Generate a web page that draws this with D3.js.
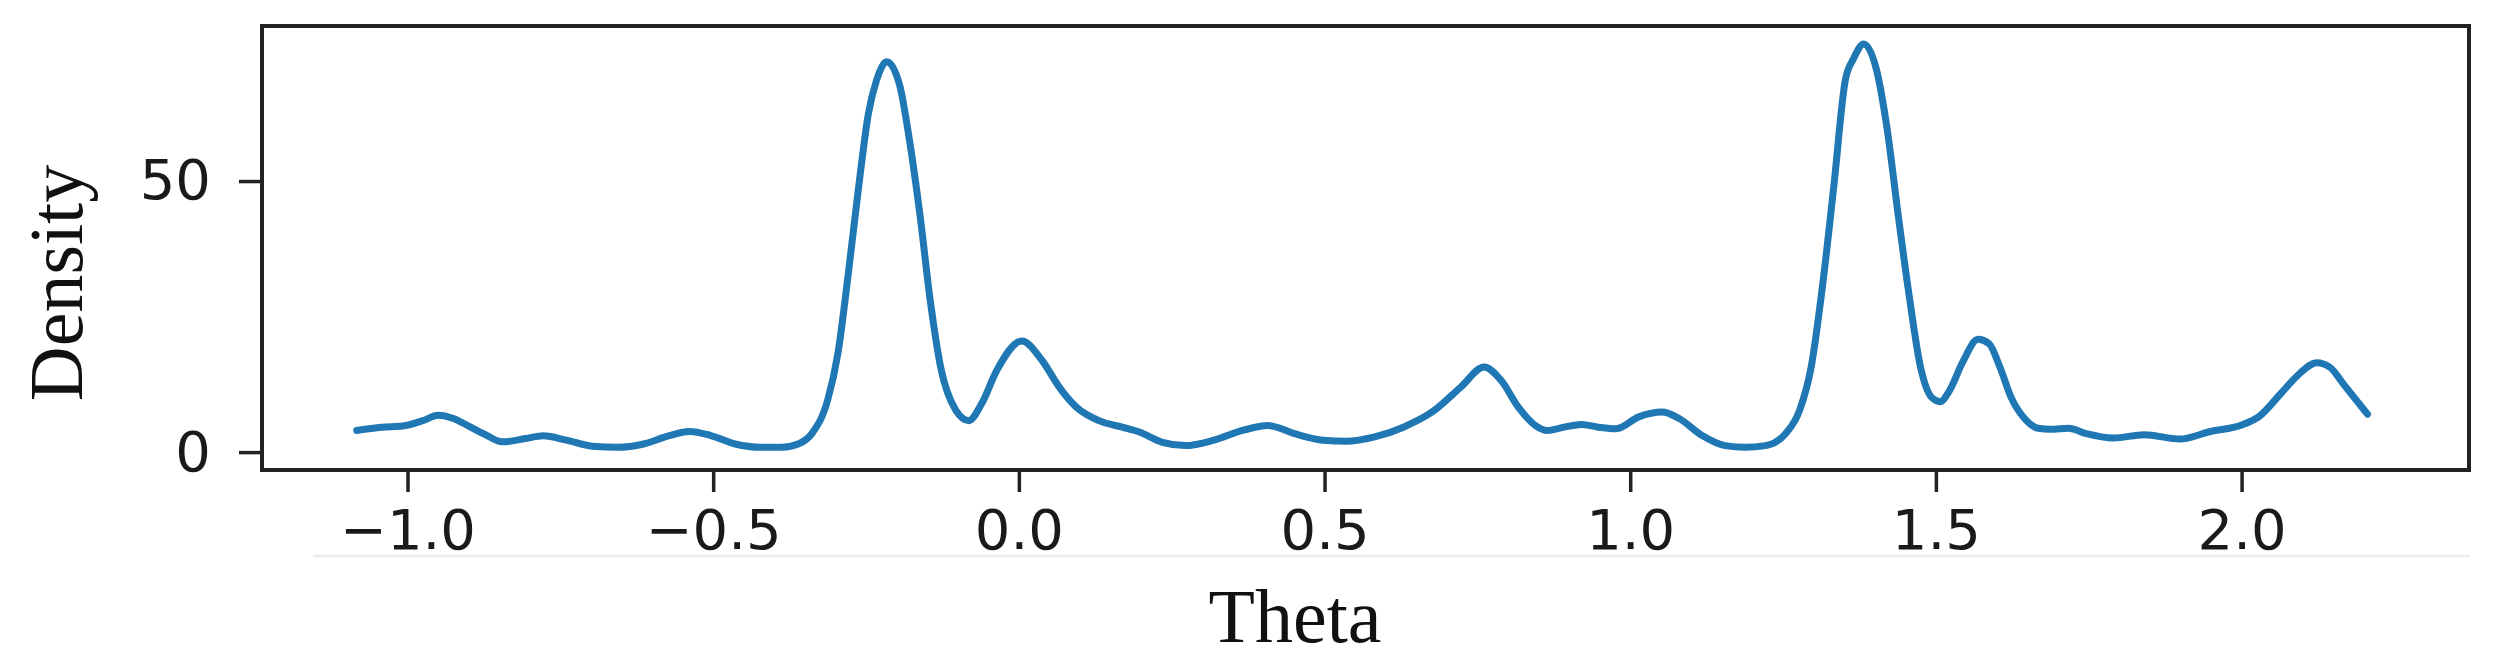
<!DOCTYPE html>
<html>
<head>
<meta charset="utf-8">
<script src="https://cdn.jsdelivr.net/npm/d3@7"></script>
<style>
  html, body { margin: 0; padding: 0; background: #fff; }
  svg { display: block; }
</style>
</head>
<body>
<svg id="chart" width="2502" height="669"></svg>
<script>
// ---- Data ----
const theta = [
  -1.083, -1.042, -1.008, -0.975, -0.950, -0.925, -0.900, -0.874, -0.845, -0.807,
  -0.778, -0.740, -0.698, -0.656, -0.614, -0.573, -0.539, -0.505, -0.464, -0.422,
  -0.388, -0.359, -0.338, -0.313, -0.296, -0.279, -0.262, -0.246, -0.233, -0.216,
  -0.195, -0.179, -0.162, -0.145, -0.128, -0.103, -0.082, -0.061, -0.036, 0.005,
  0.038, 0.066, 0.094, 0.131, 0.169, 0.197, 0.235, 0.272, 0.319, 0.366,
  0.408, 0.451, 0.498, 0.535, 0.582, 0.629, 0.676, 0.723, 0.761, 0.789,
  0.817, 0.845, 0.864, 0.892, 0.920, 0.948, 0.977, 1.014, 1.052, 1.080,
  1.117, 1.155, 1.188, 1.221, 1.254, 1.277, 1.296, 1.315, 1.333, 1.352,
  1.365, 1.382, 1.402, 1.420, 1.438, 1.457, 1.475, 1.493, 1.507, 1.522,
  1.543, 1.569, 1.587, 1.605, 1.623, 1.645, 1.667, 1.688, 1.717, 1.746,
  1.790, 1.841, 1.899, 1.949, 2.000, 2.029, 2.065, 2.094, 2.123, 2.145,
  2.167, 2.206
];
const density = [
  4.0, 4.6, 4.8, 5.8, 6.8, 6.2, 4.8, 3.3, 1.9, 2.5,
  3.0, 2.2, 1.1, 0.9, 1.5, 3.0, 3.8, 3.1, 1.5, 0.9,
  0.9, 1.6, 3.5, 9.5, 18.2, 32.9, 49.0, 62.5, 68.5, 72.0,
  67.7, 57.6, 44.0, 28.0, 15.7, 7.7, 5.8, 8.9, 15.1, 20.5,
  16.9, 12.0, 8.3, 5.8, 4.6, 3.7, 1.8, 1.2, 2.2, 4.0,
  4.9, 3.4, 2.2, 2.0, 2.8, 4.6, 7.4, 12.0, 15.7, 13.2,
  8.3, 4.9, 4.0, 4.6, 5.1, 4.6, 4.3, 6.5, 7.4, 6.2,
  3.1, 1.2, 0.9, 1.2, 3.4, 7.7, 15.7, 31.1, 49.0, 68.7,
  72.5, 75.3, 70.9, 59.8, 44.0, 28.3, 15.6, 10.1, 9.3, 11.3,
  16.4, 20.8, 20.0, 15.6, 10.1, 6.2, 4.4, 4.2, 4.4, 3.4,
  2.6, 3.2, 2.4, 3.8, 5.0, 6.6, 10.9, 14.4, 16.5, 15.6,
  12.5, 7.0
];
const xTicks = [-1.0, -0.5, 0.0, 0.5, 1.0, 1.5, 2.0];
const yTicks = [0, 50];
const xLabel = "Theta";
const yLabel = "Density";

(function () {
  // ---- Layout ----
  const svg = d3.select("#chart");
  const pL = 262, pR = 2469, pT = 26, pB = 470;

  const x = d3.scaleLinear().domain([-1.238, 2.372]).range([pL, pR]);
  const y = d3.scaleLinear().domain([-3.3, 78.6]).range([pB, pT]);

  const tickFont = "'DejaVu Sans', sans-serif";
  const labelFont = "'Liberation Serif', 'Times New Roman', serif";

  // faint grey line under tick labels (artifact in reference)
  svg.append("line")
    .attr("x1", 313).attr("x2", 2470)
    .attr("y1", 556).attr("y2", 556)
    .attr("stroke", "#efefef").attr("stroke-width", 3);

  // x axis
  const fmt = d => d3.format(".1f")(d).replace("-", "\u2212");
  const gx = svg.append("g")
    .attr("transform", `translate(0,${pB})`)
    .call(d3.axisBottom(x).tickValues(xTicks).tickFormat(fmt).tickSize(22).tickPadding(17));
  gx.select(".domain").remove();
  gx.selectAll(".tick line").attr("stroke", "#222").attr("stroke-width", 3.5);
  gx.selectAll(".tick text")
    .attr("fill", "#1a1a1a")
    .style("font-family", tickFont).style("font-size", "56px");

  // y axis
  const gy = svg.append("g")
    .attr("transform", `translate(${pL},0)`)
    .call(d3.axisLeft(y).tickValues(yTicks).tickFormat(d3.format("d")).tickSize(23).tickPadding(28));
  gy.select(".domain").remove();
  gy.selectAll(".tick line").attr("stroke", "#222").attr("stroke-width", 3.5);
  gy.selectAll(".tick text")
    .attr("fill", "#1a1a1a")
    .style("font-family", tickFont).style("font-size", "56px");

  // curve
  const pts = theta.map((t, i) => [t, density[i]]);
  const line = d3.line()
    .x(d => x(d[0])).y(d => y(d[1]))
    .curve(d3.curveMonotoneX);
  svg.append("path")
    .datum(pts)
    .attr("d", line)
    .attr("fill", "none")
    .attr("stroke", "#1f77b4")
    .attr("stroke-width", 7)
    .attr("stroke-linejoin", "round")
    .attr("stroke-linecap", "round");

  // frame
  svg.append("rect")
    .attr("x", pL).attr("y", pT)
    .attr("width", pR - pL).attr("height", pB - pT)
    .attr("fill", "none").attr("stroke", "#222").attr("stroke-width", 4);

  // axis labels
  svg.append("text")
    .attr("x", 1295).attr("y", 642)
    .attr("text-anchor", "middle")
    .attr("fill", "#111")
    .style("font-family", labelFont).style("font-size", "76px")
    .text(xLabel);

  svg.append("text")
    .attr("transform", "translate(82,283) rotate(-90)")
    .attr("text-anchor", "middle")
    .attr("fill", "#111")
    .style("font-family", labelFont).style("font-size", "76px")
    .text(yLabel);
})();
</script>
</body>
</html>
